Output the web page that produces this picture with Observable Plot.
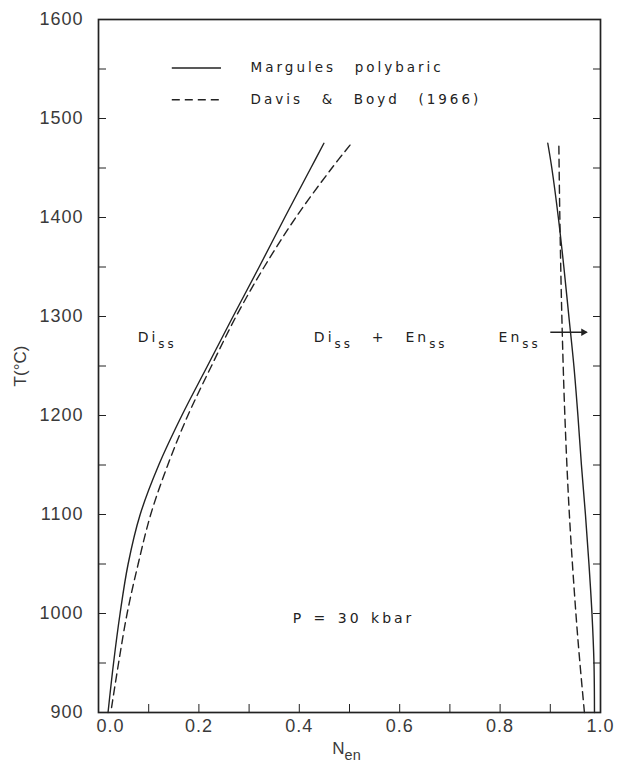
<!DOCTYPE html>
<html><head><meta charset="utf-8">
<script src="https://cdn.jsdelivr.net/npm/d3@7"></script>
<script src="https://cdn.jsdelivr.net/npm/@observablehq/plot@0.6"></script>
<style>body{margin:0;background:#fff}</style>
</head><body><div id="chart"></div>
<script>
// Margules polybaric (solid), diopside-side limb
const margulesDiT = [900, 950, 1000, 1050, 1100, 1150, 1200, 1250, 1300, 1350, 1400, 1450, 1475];
const margulesDiN = [0.019, 0.030, 0.043, 0.059, 0.083, 0.120, 0.166, 0.217, 0.268, 0.320, 0.371, 0.423, 0.449];
// Davis & Boyd (1966) (dashed), diopside-side limb
const davisDiT = [905, 950, 1000, 1050, 1100, 1150, 1200, 1250, 1300, 1350, 1400, 1450, 1475];
const davisDiN = [0.026, 0.040, 0.057, 0.079, 0.104, 0.138, 0.178, 0.225, 0.274, 0.330, 0.393, 0.465, 0.504];
// Margules polybaric (solid), enstatite-side limb
const margulesEnT = [900, 950, 1000, 1050, 1100, 1150, 1200, 1250, 1300, 1350, 1400, 1450, 1475];
const margulesEnN = [0.988, 0.987, 0.983, 0.977, 0.970, 0.962, 0.955, 0.947, 0.937, 0.927, 0.916, 0.903, 0.895];
// Davis & Boyd (1966) (dashed), enstatite-side limb
const davisEnT = [900, 950, 1000, 1100, 1200, 1300, 1400, 1475];
const davisEnN = [0.968, 0.959, 0.951, 0.938, 0.929, 0.923, 0.919, 0.917];

// Axis ticks
const xTickValues = [0.1, 0.2, 0.3, 0.4, 0.5, 0.6, 0.7, 0.8, 0.9];
const xLabelValues = [0.2, 0.4, 0.6, 0.8, 1.0];
const xFirstLabel = [0.0];
const yTickValues = [950, 1000, 1050, 1100, 1150, 1200, 1250, 1300, 1350, 1400, 1450, 1500, 1550];
const yLabelValues = [900, 1000, 1100, 1200, 1300, 1400, 1500, 1600];

// Annotations (N, T, text)
const regionLabels = ["Di_{ss}", "Di_{ss}  +  En_{ss}", "En_{ss}"];
const regionN = [0.078, 0.429, 0.797];
const regionT = [1279, 1279, 1279];
const pressureLabel = ["P = 30 kbar"];
const pressureN = [0.508];
const pressureT = [995];
const arrowN = [0.900, 0.972];
const arrowT = [1284, 1284];

// Legend
const legendNames = ["Margules  polybaric", "Davis  &  Boyd  (1966)"];
const legendT = [1551, 1519];
const legendLineN = [0.146, 0.244];
const legendTextN = 0.303;

const zipRows = (T, N) => T.map((t, i) => ({T: t, N: N[i]}));
const margDi = zipRows(margulesDiT, margulesDiN);
const davDi = zipRows(davisDiT, davisDiN);
const margEn = zipRows(margulesEnT, margulesEnN);
const davEn = zipRows(davisEnT, davisEnN);
const regions = regionLabels.map((s, i) => ({s, N: regionN[i], T: regionT[i]}));
const pressure = pressureLabel.map((s, i) => ({s, N: pressureN[i], T: pressureT[i]}));
const arrowRow = [{x1: arrowN[0], x2: arrowN[1], y1: arrowT[0], y2: arrowT[1]}];
const legendLines = legendNames.map((s, i) => ({s, i, x1: legendLineN[0], x2: legendLineN[1], T: legendT[i]}));

const ink = "#222";
const annoFont = "DejaVu Sans, sans-serif";

const plot = Plot.plot({
  width: 618,
  height: 766,
  marginLeft: 98,
  marginRight: 18,
  marginTop: 19,
  marginBottom: 54,
  style: {fontFamily: "Liberation Sans, sans-serif", fontSize: "18px", color: "#3a3a3a", background: "#fff"},
  x: {domain: [0, 1]},
  y: {domain: [900, 1600]},
  marks: [
    Plot.frame({stroke: ink, strokeWidth: 1.7}),
    Plot.axisX(xTickValues, {anchor: "bottom", tickSize: -8, tickFormat: () => "", label: null, stroke: ink}),
    Plot.axisX(xLabelValues, {anchor: "bottom", tickSize: 0, tickPadding: 7, tickFormat: d3.format(".1f"), label: null}),
    Plot.axisX(xFirstLabel, {anchor: "bottom", tickSize: 0, tickPadding: 7, tickFormat: d3.format(".1f"), label: null, dx: 12}),
    Plot.axisY(yTickValues, {anchor: "left", tickSize: -8, tickFormat: () => "", label: null, stroke: ink}),
    Plot.axisY(yTickValues, {anchor: "right", tickSize: -8, tickFormat: () => "", label: null, stroke: ink}),
    Plot.axisY(yLabelValues, {anchor: "left", tickSize: 0, tickPadding: 15, tickFormat: d => String(d), label: null}),
    Plot.text(["T(°C)"], {frameAnchor: "left", textAnchor: "middle", rotate: -90, dx: -78, text: d => d, fill: "#3a3a3a", fontSize: 17}),
    Plot.text(["N_{en}"], {frameAnchor: "bottom", lineAnchor: "middle", dy: 36, dx: -3, text: d => d, fill: "#3a3a3a", fontSize: 17}),
    // curves
    Plot.line(margDi, {x: "N", y: "T", curve: "catmull-rom", stroke: ink, strokeWidth: 1.4}),
    Plot.line(davDi, {x: "N", y: "T", curve: "catmull-rom", stroke: ink, strokeWidth: 1.4, strokeDasharray: "8,5"}),
    Plot.line(margEn, {x: "N", y: "T", curve: "catmull-rom", stroke: ink, strokeWidth: 1.4}),
    Plot.line(davEn, {x: "N", y: "T", curve: "catmull-rom", stroke: ink, strokeWidth: 1.4, strokeDasharray: "8,5"}),
    // annotations
    Plot.text(regions, {x: "N", y: "T", text: "s", textAnchor: "start", fill: ink, fontSize: 14, fontFamily: annoFont}),
    Plot.text(pressure, {x: "N", y: "T", text: "s", fill: ink, fontSize: 14, fontFamily: annoFont}),
    Plot.link(arrowRow, {x1: "x1", y1: "y1", x2: "x2", y2: "y2", stroke: ink, strokeWidth: 1.5}),
    Plot.dot(arrowRow, {x: "x2", y: "y2", symbol: "triangle2", rotate: 90, r: 3.6, dx: -3, fill: ink, stroke: "none"}),
    // legend
    Plot.link(legendLines.filter(d => d.i === 0), {x1: "x1", x2: "x2", y1: "T", y2: "T", stroke: ink, strokeWidth: 1.4}),
    Plot.link(legendLines.filter(d => d.i === 1), {x1: "x1", x2: "x2", y1: "T", y2: "T", stroke: ink, strokeWidth: 1.4, strokeDasharray: "8,5"}),
    Plot.text(legendLines, {x: () => legendTextN, y: "T", text: "s", textAnchor: "start", fill: ink, fontSize: 13.5, fontFamily: annoFont})
  ]
});

// subscripts
d3.select(plot).selectAll("text").each(function() {
  const s = this.textContent;
  if (!s.includes("_{")) return;
  const parts = s.split(/(_\{[^}]*\})/).filter(p => p);
  this.textContent = "";
  let shifted = false;
  for (const p of parts) {
    const ts = d3.select(this).append("tspan");
    if (p.startsWith("_{")) {
      ts.text(p.slice(2, -1)).attr("dy", 6).attr("font-size", "85%");
      shifted = true;
    } else {
      ts.text(p);
      if (shifted) { ts.attr("dy", -6); shifted = false; }
    }
  }
});
// letter spacing on the lettered annotations only
d3.select(plot).selectAll("g").each(function() {
  if (this.getAttribute("font-family") === annoFont) {
    d3.select(this).selectAll("text").style("letter-spacing", "3px").style("word-spacing", "2px");
  }
});
d3.select(plot).selectAll("g[aria-label='x-axis tick label'] text, g[aria-label='y-axis tick label'] text").style("letter-spacing", "1px");

document.getElementById("chart").appendChild(plot);
</script>
</body></html>
